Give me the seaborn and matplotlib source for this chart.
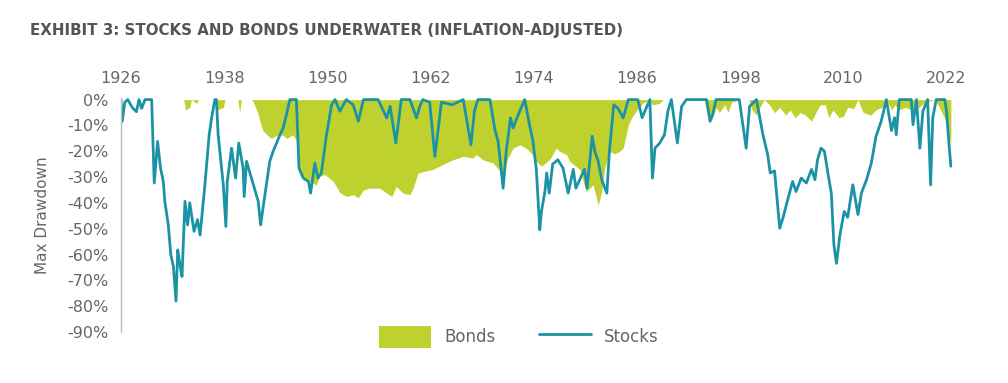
import numpy as np
import pandas as pd
import matplotlib
matplotlib.use("Agg")
import matplotlib.pyplot as plt
import seaborn as sns
from matplotlib.patches import Patch
from matplotlib.lines import Line2D

stock_years = [
    1926.0, 1926.15, 1926.45, 1926.8, 1927.3, 1927.8, 1928.1, 1928.4, 1928.8, 1929.57,
    1929.87, 1930.26, 1930.6, 1930.92, 1931.1, 1931.5, 1931.8, 1932.1, 1932.4, 1932.6,
    1932.86, 1933.1, 1933.44, 1933.75, 1934.0, 1934.5, 1934.9, 1935.2, 1935.76, 1936.26,
    1936.54, 1936.92, 1937.1, 1937.3, 1937.9, 1938.2, 1938.36, 1938.86, 1939.33, 1939.7,
    1940.2, 1940.33, 1940.6, 1941.4, 1941.96, 1942.24, 1942.9, 1943.3, 1943.7, 1944.5,
    1944.86, 1945.3, 1945.64, 1946.4, 1946.7, 1947.2, 1947.8, 1948.05, 1948.55, 1948.9,
    1949.3, 1949.9, 1950.5, 1950.9, 1951.45, 1952.2, 1953.0, 1953.6, 1954.2, 1955.9,
    1956.9, 1957.3, 1957.96, 1958.6, 1959.6, 1960.37, 1960.75, 1961.1, 1961.9, 1962.5,
    1963.27, 1964.5, 1965.8, 1966.7, 1967.1, 1967.5, 1968.9, 1969.5, 1969.85, 1970.25,
    1970.44, 1970.8, 1971.3, 1971.6, 1972.2, 1972.95, 1973.5, 1973.9, 1974.3, 1974.7,
    1974.9, 1975.3, 1975.5, 1975.8, 1976.2, 1976.8, 1977.4, 1978.0, 1978.6, 1978.9,
    1979.35, 1979.9, 1980.2, 1980.8, 1981.1, 1981.5, 1981.9, 1982.5, 1982.8, 1983.3,
    1983.8, 1984.4, 1985.0, 1986.1, 1986.6, 1987.5, 1987.8, 1988.1, 1988.65, 1989.2,
    1989.6, 1990.0, 1990.7, 1991.2, 1991.75, 1994.1, 1994.5, 1994.8, 1995.2, 1997.9,
    1998.7, 1999.1, 1999.9, 2000.65, 2001.2, 2001.5, 2002.0, 2002.6, 2003.0, 2003.4,
    2004.1, 2004.5, 2005.1, 2005.7, 2006.3, 2006.7, 2007.0, 2007.4, 2007.8, 2008.2,
    2008.6, 2008.9, 2009.2, 2009.6, 2010.1, 2010.5, 2011.1, 2011.7, 2012.1, 2012.7,
    2013.25, 2013.8, 2014.4, 2015.0, 2015.6, 2015.95, 2016.15, 2016.5, 2017.9, 2018.1,
    2018.5, 2018.9, 2019.25, 2019.8, 2020.15, 2020.4, 2020.8, 2021.8, 2022.0, 2022.2,
    2022.5,
]
stock_dd = [
    0, -8.4, -1, 0, -3, -4.7, 0, -3.4, 0, 0,
    -32.3, -16.2, -26.5, -31.7, -39.4, -48.5, -60.1, -64.7, -78, -58.2,
    -64, -68.5, -39.4, -48.5, -40, -51, -46.5, -52.4, -33, -13.6,
    -7.1, 0, 0, -13.6, -33, -49.1, -31.7, -18.8, -30.4, -16.8,
    -26.5, -37.5, -23.9, -33, -39.4, -48.5, -33, -23.9, -20, -13.6,
    -11, -5, 0, 0, -26.5, -30.4, -31.7, -36.2, -24.6, -30.4,
    -28.4, -13.6, -2, 0, -4.5, 0, -2, -8.4, 0, 0,
    -7.1, -2.6, -16.8, 0, 0, -7.1, -2.6, 0, -1, -22,
    -1, -2, 0, -17.5, -4.5, 0, 0, -12, -16, -28.4,
    -34.3, -20, -7.1, -11, -5.8, 0, -9.7, -16, -27, -50.4,
    -43.3, -35.6, -28.4, -36.2, -25, -23.3, -26.5, -36.2, -27, -34.3,
    -31, -27, -34.3, -14.2, -20, -23.9, -31, -36.2, -20, -2,
    -3.4, -7.1, 0, 0, -7, 0, -30.4, -18.8, -16.8, -13.6,
    -4.5, 0, -16.8, -2.6, 0, 0, -8.4, -6, 0, 0,
    -18.8, -2.6, 0, -13.6, -21.3, -28.4, -27.6, -49.8, -45.6, -40.4,
    -31.7, -35.6, -30.4, -32.3, -27, -31, -23.3, -18.8, -20, -28.4,
    -36.2, -56.2, -63.4, -52.4, -43.3, -45.6, -33, -44.5, -36.2, -31,
    -24.6, -14.2, -8.4, 0, -12, -7, -13.6, 0, 0, -9.7,
    0, -18.8, -4.5, 0, -33, -7, 0, 0, -4.5, -13.6,
    -25.8,
]

bond_years = [
    1926.0, 1933.3, 1933.5, 1934.0, 1934.2, 1934.8, 1935.0, 1936.9, 1937.2, 1937.9,
    1938.1, 1939.6, 1939.8, 1940.0, 1941.2, 1941.4, 1941.9, 1942.15, 1942.5, 1943.1,
    1943.5, 1944.0, 1944.7, 1945.3, 1946.0, 1946.4, 1946.8, 1947.2, 1948.0, 1948.7,
    1949.1, 1949.7, 1950.7, 1951.45, 1952.2, 1953.0, 1953.6, 1954.2, 1954.9, 1956.1,
    1956.9, 1957.5, 1958.0, 1958.8, 1959.6, 1960.0, 1960.55, 1961.5, 1962.3, 1963.5,
    1964.6, 1965.8, 1966.95, 1967.3, 1968.1, 1969.3, 1970.05, 1970.4, 1971.0, 1971.6,
    1972.4, 1973.1, 1973.7, 1974.3, 1974.9, 1975.9, 1976.6, 1977.0, 1977.8, 1978.2,
    1979.35, 1980.1, 1980.9, 1981.5, 1981.9, 1982.25, 1982.8, 1983.4, 1984.0, 1984.4,
    1985.0, 1985.4, 1985.9, 1986.7, 1987.5, 1987.8, 1988.6, 1989.1, 1993.8, 1994.2,
    1994.6, 1995.2, 1995.6, 1996.2, 1996.6, 1997.0, 1998.0, 1999.0, 1999.4, 1999.9,
    2000.3, 2000.8, 2001.4, 2002.0, 2002.6, 2003.3, 2003.8, 2004.4, 2005.0, 2005.6,
    2006.3, 2006.8, 2007.3, 2007.9, 2008.3, 2008.8, 2009.5, 2010.0, 2010.5, 2011.2,
    2011.7, 2012.3, 2013.2, 2013.8, 2014.5, 2015.0, 2015.6, 2016.0, 2016.5, 2017.2,
    2018.0, 2018.8, 2019.5, 2020.6, 2021.0, 2021.6, 2022.0, 2022.3, 2022.5,
]
bond_dd = [
    0, 0, -4, -3, 0, -1.5, 0, 0, -4, -3,
    0, 0, -5, 0, 0, -1, -5, -8.4, -12, -14,
    -15, -14, -13.6, -15, -13.6, -16, -26.5, -31, -31.7, -33,
    -29.7, -29, -31.7, -36, -37.5, -36.8, -38, -35, -34.3, -34.3,
    -36.2, -37.5, -33.6, -36.2, -36.8, -34, -28.4, -27.6, -27, -25,
    -23.3, -22, -22.6, -21.3, -23.3, -24.6, -27.6, -29, -22.6, -18.8,
    -17.5, -18.8, -20.7, -24, -25.8, -23, -18.8, -20, -21.3, -24,
    -27, -35.6, -33, -40.8, -35.6, -26.5, -20, -21, -20, -18.8,
    -9.7, -7, -4.5, -1.3, 0, -2, -1.5, 0, 0, -6,
    -8, -3, -5, -2, -5, -1, 0, 0, -4, -6,
    -3, 0, -2, -5, -3, -6, -4, -7, -5, -6,
    -8.4, -5, -2, -2, -7, -4, -7, -6.5, -3, -3.5,
    0, -5, -6, -4, -3, 0, -4, -2, -4, -3,
    -4, -3, -1, 0, -2, -6, -9, -14, -17,
]

year_ticks = [1926, 1938, 1950, 1962, 1974, 1986, 1998, 2010, 2022]
pct_ticks = [0, -10, -20, -30, -40, -50, -60, -70, -80, -90]

green = "#BFD12F"
teal = "#1B93A5"
text_gray = "#666666"

sns.set_theme(style="white")
plt.rcParams["font.family"] = ["DejaVu Sans"]

stocks = pd.DataFrame({"year": stock_years, "drawdown": stock_dd})

fig = plt.figure(figsize=(10.08, 3.83), dpi=100)
ax = fig.add_axes([0.12, 0.133, 0.825, 0.611])

ax.fill_between(bond_years, bond_dd, 0, color=green, linewidth=0, zorder=1)
sns.lineplot(data=stocks, x="year", y="drawdown", color=teal, linewidth=2.0,
             ax=ax, zorder=2, legend=False)

ax.set_xlim(1926, 2022.7)
ax.set_ylim(-90, 0.6)
ax.set_xticks(year_ticks)
ax.set_xticklabels([str(y) for y in year_ticks])
ax.set_yticks(pct_ticks)
ax.set_yticklabels([f"{p}%" for p in pct_ticks])
ax.xaxis.tick_top()
ax.tick_params(axis="x", length=0, pad=9, labelsize=11.5, labelcolor=text_gray)
ax.tick_params(axis="y", length=0, pad=9, labelsize=11.5, labelcolor=text_gray)
ax.set_xlabel("")
ax.set_ylabel("Max Drawdown", fontsize=11, color=text_gray, labelpad=12)

for side in ["top", "right", "bottom"]:
    ax.spines[side].set_visible(False)
ax.spines["left"].set_color("#BBBBBB")
ax.spines["left"].set_linewidth(1)
ax.grid(False)

fig.text(0.03, 0.92, "EXHIBIT 3: STOCKS AND BONDS UNDERWATER (INFLATION-ADJUSTED)",
         fontsize=10.8, fontweight="bold", color="#555555", va="center")

handles = [Patch(facecolor=green, edgecolor="none", label="Bonds"),
           Line2D([0], [0], color=teal, linewidth=2.0, label="Stocks")]
fig.legend(handles=handles, loc="center", bbox_to_anchor=(0.515, 0.12), ncol=2,
           frameon=False, fontsize=12, handlelength=3.1, handleheight=1.6,
           handletextpad=0.8, columnspacing=2.6, labelcolor=text_gray)

fig.savefig("out.png", dpi=100)
